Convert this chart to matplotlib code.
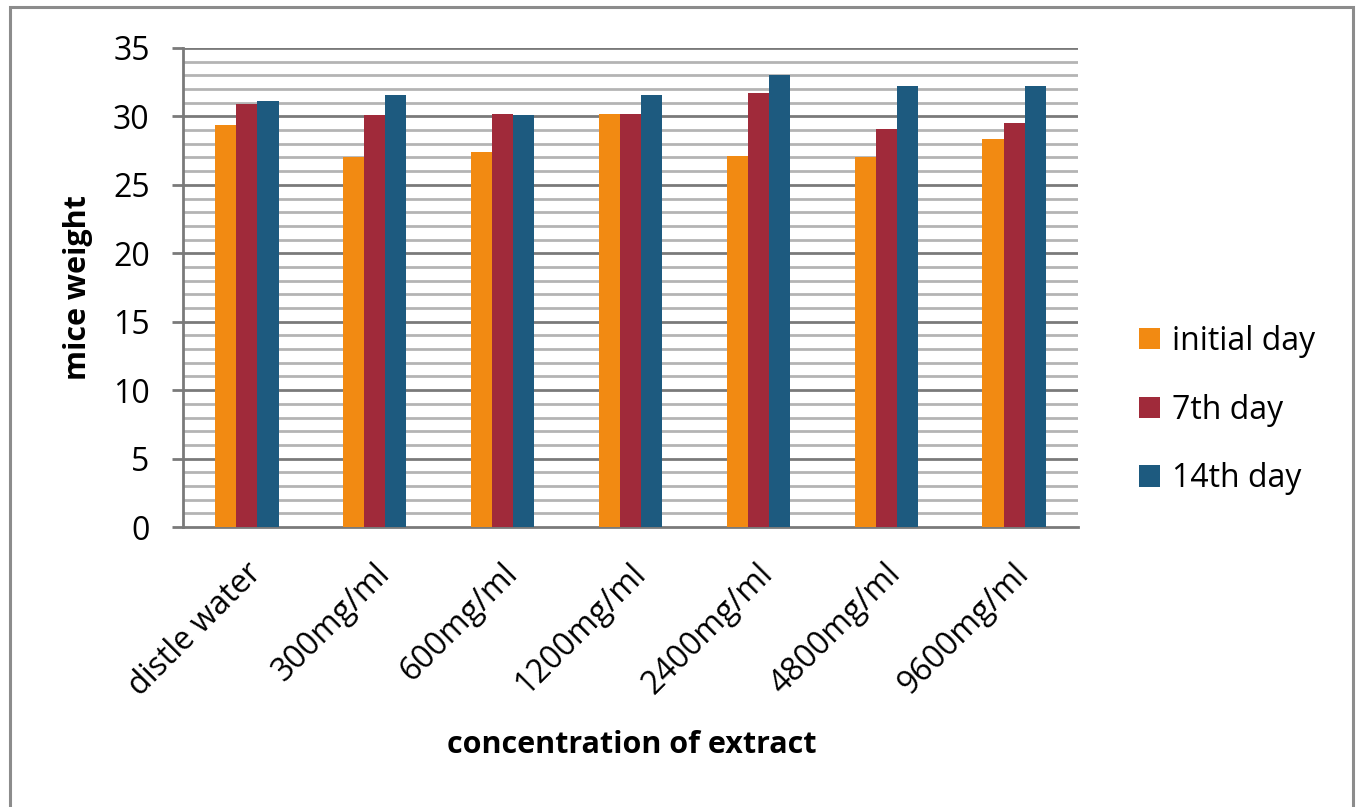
import numpy as np
import matplotlib.pyplot as plt
from matplotlib.patches import Rectangle
from matplotlib.transforms import ScaledTranslation

# ---------- DATA ----------
categories = ["distle water", "300mg/ml", "600mg/ml", "1200mg/ml",
              "2400mg/ml", "4800mg/ml", "9600mg/ml"]
initial_day = [29.4, 27.0, 27.4, 30.2, 27.1, 27.0, 28.35]
day_7 = [30.9, 30.1, 30.2, 30.2, 31.7, 29.05, 29.5]
day_14 = [31.15, 31.6, 30.1, 31.6, 33.0, 32.2, 32.2]

series = [("initial day", initial_day, "#F28A12"),
          ("7th day", day_7, "#A02A3A"),
          ("14th day", day_14, "#1D5A7F")]

plt.rcParams["font.family"] = ["Open Sans", "DejaVu Sans"]

fig = plt.figure(figsize=(13.57, 8.07), dpi=100)
ax = fig.add_axes([183 / 1357, 1 - 527 / 807, (1078 - 183) / 1357, (527 - 48) / 807])

# outer frame of the chart
fig.patches.append(Rectangle((10 / 1357, -0.02), (1353 - 10) / 1357, 1 - 7 / 807 + 0.02,
                             transform=fig.transFigure, fill=False,
                             edgecolor="#8c8c8c", linewidth=2.2))

x = np.arange(len(categories))
width = 0.165
for i, (name, vals, color) in enumerate(series):
    ax.bar(x + (i - 1) * width, vals, width=width, color=color, label=name, zorder=3)

ax.set_xlim(-0.5, len(categories) - 0.5)
ax.set_ylim(0, 35)
ax.set_yticks(range(0, 36, 5))

# grid lines
for v in range(1, 36):
    if v % 5 == 0:
        ax.axhline(v, color="#7a7a7a", linewidth=2.0, zorder=1)
    else:
        ax.axhline(v, color="#b4b4b4", linewidth=2.0, zorder=1)

for s in ["top", "right"]:
    ax.spines[s].set_visible(False)
for s in ["left", "bottom"]:
    ax.spines[s].set_color("#7a7a7a")
    ax.spines[s].set_linewidth(2.0)

ax.tick_params(axis="y", length=8, width=2, color="#7a7a7a",
               labelsize=23, pad=16)
ax.tick_params(axis="x", length=0, labelsize=23, pad=30)
ax.set_xticks(x)
ax.set_xticklabels(categories, rotation=45, ha="right", va="center",
                   rotation_mode="anchor")
shift = ScaledTranslation(10 / 100, 0, fig.dpi_scale_trans)
for lbl in ax.get_xticklabels():
    lbl.set_transform(lbl.get_transform() + shift)

ax.set_ylabel("mice weight", fontsize=22, fontweight="bold", labelpad=14)
fig.text(632 / 1357, 1 - 745 / 807, "concentration of extract", fontsize=22,
         fontweight="bold", ha="center", va="center")

fig.legend(loc="center left", bbox_to_anchor=(1110 / 1357, 1 - 410 / 807),
           frameon=False, fontsize=23, handlelength=0.65, handleheight=0.65,
           handletextpad=0.4, labelspacing=1.12)

fig.savefig("out.png", dpi=100)
